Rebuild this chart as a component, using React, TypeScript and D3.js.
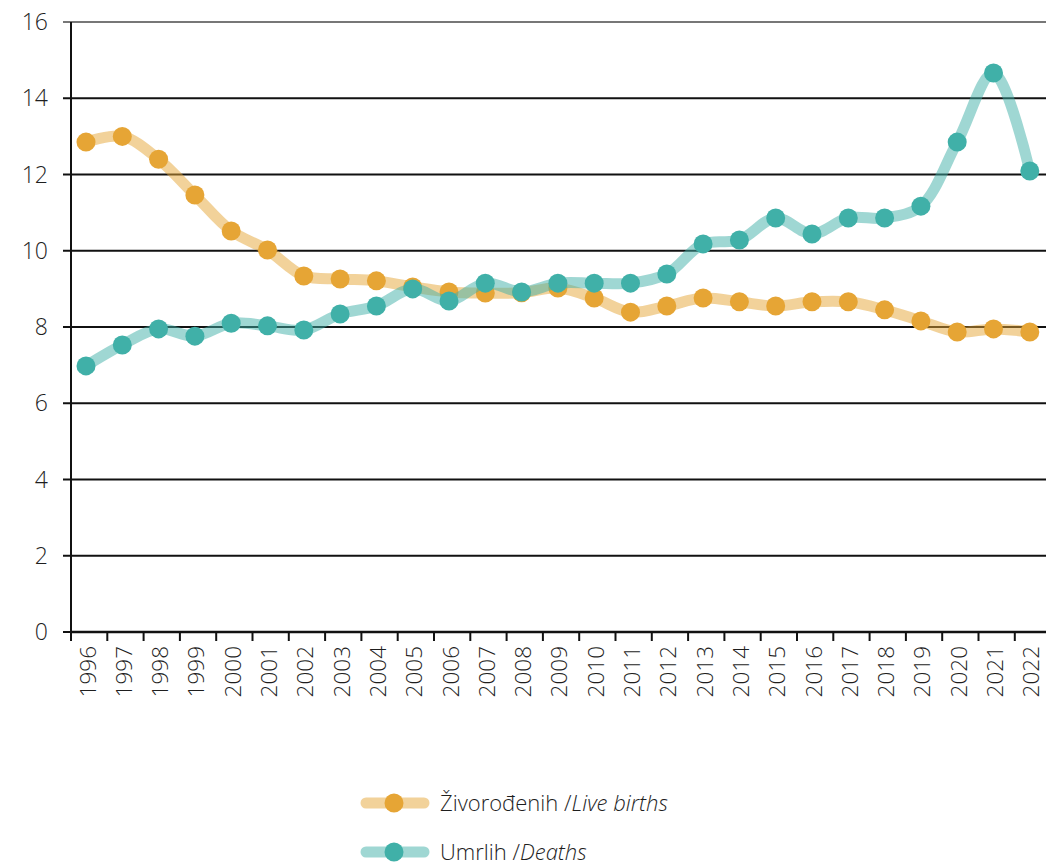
import React, { useEffect, useRef } from 'react';
import * as d3 from 'd3';

const years = [
  1996, 1997, 1998, 1999, 2000, 2001, 2002, 2003, 2004, 2005, 2006, 2007, 2008, 2009,
  2010, 2011, 2012, 2013, 2014, 2015, 2016, 2017, 2018, 2019, 2020, 2021, 2022,
];
const liveBirths = [
  12.85, 13.0, 12.4, 11.46, 10.52, 10.02, 9.34, 9.26, 9.21, 9.05, 8.92, 8.89, 8.9, 9.02,
  8.76, 8.39, 8.55, 8.76, 8.66, 8.55, 8.66, 8.66, 8.45, 8.16, 7.87, 7.95, 7.87,
];
const deaths = [
  6.98, 7.53, 7.95, 7.76, 8.1, 8.03, 7.92, 8.34, 8.55, 9.0, 8.68, 9.15, 8.92, 9.15,
  9.15, 9.15, 9.39, 10.18, 10.28, 10.86, 10.44, 10.86, 10.86, 11.17, 12.85, 14.66, 12.09,
];
const yTicks = [0, 2, 4, 6, 8, 10, 12, 14, 16];

const series = [
  { name: 'Živorođenih', en: 'Live births', values: liveBirths, color: '#e6a535' },
  { name: 'Umrlih', en: 'Deaths', values: deaths, color: '#40b0a8' },
];

const W = 1046;
const H = 868;
const FONT = '"Open Sans", sans-serif';

const App = () => {
  const svgRef = useRef<SVGSVGElement>(null);

  useEffect(() => {
    const svg = d3.select(svgRef.current);
    svg.selectAll('*').remove();

    const left = 71;
    const step = 36.3;
    // band edges (ticks) start at the axis, points sit slightly left of band centre
    const xBand = d3.scaleBand<number>().domain(years).range([left, left + step * years.length]);
    const xPt = (yr: number) => (xBand(yr) as number) + 15;
    const y = d3.scaleLinear().domain([0, 16]).range([632, 22]);

    // gridlines
    svg.append('g')
      .selectAll('line')
      .data(yTicks.filter(t => t > 0))
      .join('line')
      .attr('x1', 63)
      .attr('x2', W)
      .attr('y1', d => y(d))
      .attr('y2', d => y(d))
      .attr('stroke', d => (d === 16 ? '#777' : '#111'))
      .attr('stroke-width', 2);

    // y labels + ticks
    svg.append('g')
      .selectAll('text')
      .data(yTicks)
      .join('text')
      .attr('x', 48)
      .attr('y', d => y(d))
      .attr('dy', '0.35em')
      .attr('text-anchor', 'end')
      .attr('font-family', FONT)
      .attr('font-weight', 300)
      .attr('font-size', 23)
      .attr('fill', '#1e1e1e')
      .text(d => d);

    svg.append('line')
      .attr('x1', 63).attr('x2', left).attr('y1', y(0)).attr('y2', y(0))
      .attr('stroke', '#111').attr('stroke-width', 2);

    // axes
    svg.append('line')
      .attr('x1', left).attr('x2', left).attr('y1', y(16)).attr('y2', y(0) + 9)
      .attr('stroke', '#111').attr('stroke-width', 2);
    svg.append('line')
      .attr('x1', left).attr('x2', W).attr('y1', y(0)).attr('y2', y(0))
      .attr('stroke', '#111').attr('stroke-width', 2.5);

    svg.append('g')
      .selectAll('line')
      .data(years)
      .join('line')
      .attr('x1', d => xBand(d) as number)
      .attr('x2', d => xBand(d) as number)
      .attr('y1', y(0))
      .attr('y2', y(0) + 9)
      .attr('stroke', '#111')
      .attr('stroke-width', 2);

    svg.append('g')
      .selectAll('text')
      .data(years)
      .join('text')
      .attr('transform', d => `translate(${(xBand(d) as number) + xBand.bandwidth() / 2 - 1.5},646) rotate(-90)`)
      .attr('text-anchor', 'end')
      .attr('dy', '0.35em')
      .attr('font-family', FONT)
      .attr('font-weight', 300)
      .attr('font-size', 22.5)
      .attr('fill', '#1e1e1e')
      .text(d => d);

    const line = d3.line<number>()
      .x((_, i) => xPt(years[i]))
      .y(d => y(d))
      .curve(d3.curveCatmullRom.alpha(0.5));

    series.forEach(s => {
      const g = svg.append('g');
      g.append('path')
        .attr('d', line(s.values))
        .attr('fill', 'none')
        .attr('stroke', s.color)
        .attr('stroke-opacity', 0.5)
        .attr('stroke-width', 11)
        .attr('stroke-linecap', 'round');
      g.selectAll('circle')
        .data(s.values)
        .join('circle')
        .attr('cx', (_, i) => xPt(years[i]))
        .attr('cy', d => y(d))
        .attr('r', 9.5)
        .attr('fill', s.color);
    });

    // legend
    const legend = svg.append('g');
    series.forEach((s, i) => {
      const ly = 803 + i * 49;
      legend.append('line')
        .attr('x1', 366).attr('x2', 424).attr('y1', ly).attr('y2', ly)
        .attr('stroke', s.color).attr('stroke-opacity', 0.5)
        .attr('stroke-width', 11).attr('stroke-linecap', 'round');
      legend.append('circle').attr('cx', 394).attr('cy', ly).attr('r', 9.5).attr('fill', s.color);
      const t = legend.append('text')
        .attr('x', 440).attr('y', ly).attr('dy', '0.35em')
        .attr('font-family', FONT).attr('font-weight', 300)
        .attr('font-size', 22).attr('fill', '#1e1e1e');
      t.append('tspan').text(`${s.name} /`);
      t.append('tspan').attr('font-style', 'italic').text(s.en);
    });
  }, []);

  return (
    <div style={{ position: 'absolute', left: 0, top: 0, width: W, height: H, background: '#fff' }}>
      <svg ref={svgRef} width={W} height={H} style={{ display: 'block' }} />
    </div>
  );
};

export default App;
